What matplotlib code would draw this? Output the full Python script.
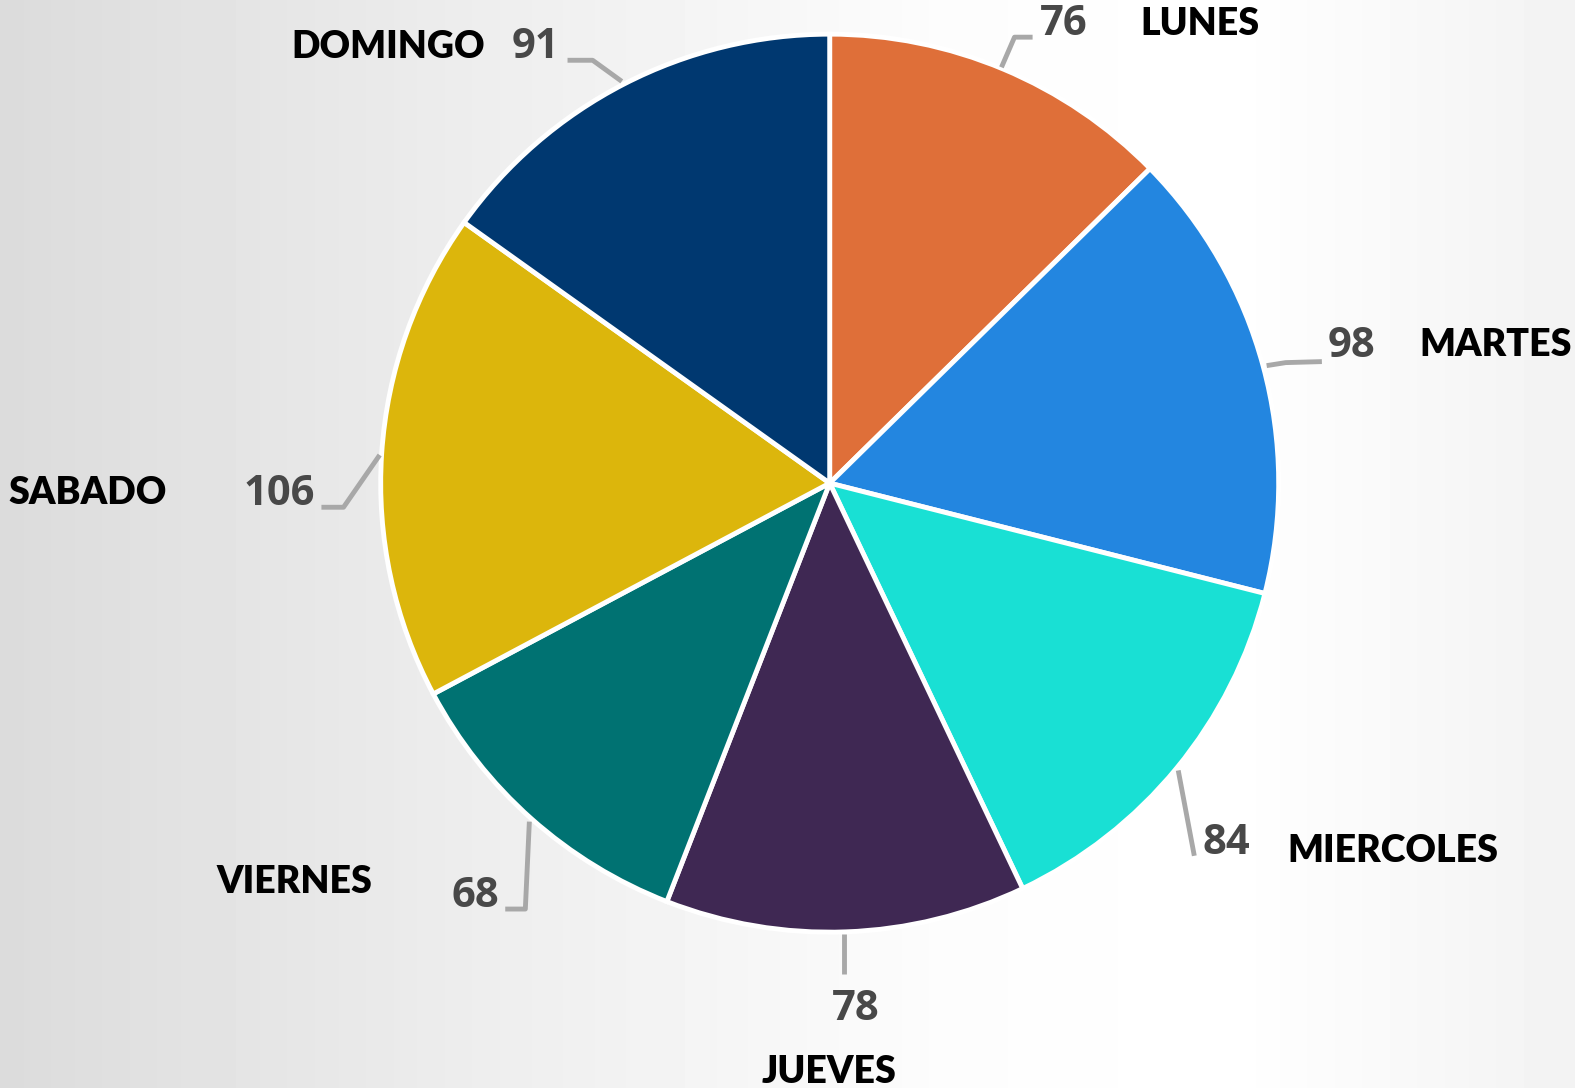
import matplotlib.pyplot as plt
import numpy as np

dias = ['LUNES', 'MARTES', 'MIERCOLES', 'JUEVES', 'VIERNES', 'SABADO', 'DOMINGO']
valores = [76, 98, 84, 78, 68, 106, 91]
colores = ['#df6f39', '#2386e0', '#19e0d4', '#3f2853', '#007272', '#dcb60c', '#003870']

W, H = 1575, 1088
s = W / 1568  # medidas tomadas sobre la imagen reducida

# posiciones de las etiquetas (pixeles de la imagen, y hacia abajo)
# linea guia: lista de puntos; valor: (x, y, ha); dia: (x, y, ha)
guias = [
    [(997, 67), (1010, 37), (1028, 37)],
    [(1261, 364), (1280, 361), (1316, 360)],
    [(1173, 767), (1189, 852)],
    [(840, 930), (840, 970)],
    [(527, 818), (523, 905), (503, 905)],
    [(378, 453), (342, 505), (320, 505)],
    [(619, 81), (590, 60), (565, 60)],
]
pos_valor = [(1035, 24, 'left'), (1322, 345, 'left'), (1197, 840, 'left'),
             (852, 1005, 'center'), (497, 893, 'right'), (314, 492, 'right'),
             (557, 47, 'right')]
pos_dia = [(1135, 24, 'left'), (1413, 343, 'left'), (1282, 847, 'left'),
           (825, 1067, 'center'), (371, 878, 'right'), (166, 491, 'right'),
           (483, 47, 'right')]

fig = plt.figure(figsize=(W / 100, H / 100), dpi=100)
ax = fig.add_axes([0, 0, 1, 1])

# fondo degradado gris -> blanco
xs = np.linspace(0, 1, 400)
gris = np.interp(xs, [0, 0.3, 0.6, 0.78, 1.0], [0.86, 0.93, 0.99, 1.0, 0.95])
ax.imshow(np.tile(gris, (2, 1)), cmap='gray', vmin=0, vmax=1,
          extent=[0, W, 0, H], aspect='auto', zorder=0)

cx, cy, r = 826 * s, H - 481 * s, 447 * s
ax.pie(valores, colors=colores, startangle=90, counterclock=False,
       center=(cx, cy), radius=r,
       wedgeprops=dict(edgecolor='white', linewidth=3.5))

for i in range(len(dias)):
    pts = np.array(guias[i]) * s
    ax.plot(pts[:, 0], H - pts[:, 1], color='#a8a8a8', lw=3.5, solid_capstyle='butt', zorder=3)
    x, y, ha = pos_valor[i]
    ax.text(x * s, H - y * s, str(valores[i]), ha=ha, va='center', fontsize=30,
            fontfamily='Open Sans', fontweight='bold', color='#484848')
    x, y, ha = pos_dia[i]
    ax.text(x * s, H - y * s, dias[i], ha=ha, va='center', fontsize=27,
            fontfamily='Lato', fontweight='heavy', color='black')

ax.set_xlim(0, W)
ax.set_ylim(0, H)
ax.set_aspect('auto')
ax.axis('off')
fig.savefig('out.png', dpi=100)
